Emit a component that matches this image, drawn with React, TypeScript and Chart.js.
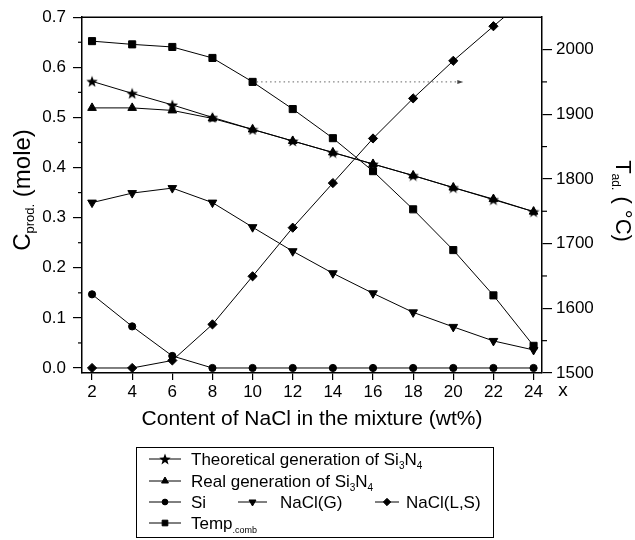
import React, { useEffect, useRef } from "react";
import { Chart, registerables } from "chart.js";
import { drawPoint } from "chart.js/helpers";

Chart.register(...registerables);

const X_VALUES = [2, 4, 6, 8, 10, 12, 14, 16, 18, 20, 22, 24];
const THEORETICAL = [0.572, 0.548, 0.525, 0.5, 0.476, 0.453, 0.43, 0.407, 0.384, 0.36, 0.336, 0.312];
const REAL = [0.519, 0.519, 0.514, 0.498, 0.476, 0.453, 0.43, 0.407, 0.384, 0.36, 0.337, 0.312];
const SI = [0.147, 0.083, 0.024, 0, 0, 0, 0, 0, 0, 0, 0, 0];
const NACL_G = [0.33, 0.349, 0.359, 0.33, 0.281, 0.233, 0.189, 0.149, 0.111, 0.082, 0.054, 0.036];
const NACL_LS = [0, 0, 0.015, 0.087, 0.183, 0.28, 0.369, 0.458, 0.538, 0.613, 0.682, 0.75];
const TEMP = [2013, 2008, 2004, 1987, 1950, 1908, 1863, 1812, 1753, 1690, 1620, 1542];

const X_TICKS = [2, 4, 6, 8, 10, 12, 14, 16, 18, 20, 22, 24];
const LEFT_TICKS = [0, 0.1, 0.2, 0.3, 0.4, 0.5, 0.6, 0.7];
const LEFT_MINOR = [0.05, 0.15, 0.25, 0.35, 0.45, 0.55, 0.65];
const RIGHT_TICKS = [1500, 1600, 1700, 1800, 1900, 2000];
const RIGHT_MINOR = [1550, 1650, 1750, 1850, 1950];

// dotted arrow annotation (x from, x to, temperature)
const ARROW_X = [10, 20.5];
const ARROW_T = 1950;

const FONT = '"Liberation Sans", Arial, sans-serif';

type Seg = { t: string; size: number; dy?: number };

function richWidth(ctx: CanvasRenderingContext2D, segs: Seg[]) {
  let w = 0;
  for (const s of segs) {
    ctx.font = `${s.size}px ${FONT}`;
    w += ctx.measureText(s.t).width;
  }
  return w;
}

function drawRich(ctx: CanvasRenderingContext2D, segs: Seg[], x: number, y: number, align: "left" | "center") {
  let cx = x;
  if (align === "center") cx = x - richWidth(ctx, segs) / 2;
  ctx.textAlign = "left";
  ctx.textBaseline = "alphabetic";
  for (const s of segs) {
    ctx.font = `${s.size}px ${FONT}`;
    ctx.fillText(s.t, cx, y + (s.dy || 0));
    cx += ctx.measureText(s.t).width;
  }
}

function makeStar(size: number) {
  const c = document.createElement("canvas");
  c.width = size;
  c.height = size;
  const g = c.getContext("2d")!;
  const r = size / 2;
  const ri = r * 0.42;
  g.beginPath();
  for (let i = 0; i < 10; i++) {
    const rad = (Math.PI / 5) * i - Math.PI / 2;
    const rr = i % 2 === 0 ? r : ri;
    const px = r + Math.cos(rad) * rr;
    const py = r + 0.6 + Math.sin(rad) * rr;
    if (i === 0) g.moveTo(px, py);
    else g.lineTo(px, py);
  }
  g.closePath();
  g.fillStyle = "#000";
  g.fill();
  return c;
}

export default function App() {
  const ref = useRef<HTMLCanvasElement>(null);

  useEffect(() => {
    const canvas = ref.current!;
    const star = makeStar(12);

    const styles: Record<string, any> = {
      theo: { pointStyle: star, radius: 6, rotation: 0 },
      real: { pointStyle: "triangle", radius: 5, rotation: 0 },
      si: { pointStyle: "circle", radius: 3.6, rotation: 0 },
      naclg: { pointStyle: "triangle", radius: 5, rotation: 180 },
      nacll: { pointStyle: "rectRot", radius: 4.6, rotation: 0 },
      temp: { pointStyle: "rect", radius: 5, rotation: 0 },
    };

    const mk = (label: string, vals: number[], key: string, axis: string) => ({
      label,
      data: X_VALUES.map((x, i) => ({ x, y: vals[i] })),
      yAxisID: axis,
      borderColor: "#000",
      backgroundColor: "#000",
      borderWidth: 1,
      pointStyle: styles[key].pointStyle,
      pointRadius: styles[key].radius,
      pointRotation: styles[key].rotation,
      pointBorderWidth: 1,
      pointBackgroundColor: "#000",
      pointBorderColor: "#000",
      tension: 0,
    });

    const overlay = {
      id: "overlay",
      afterDraw(chart: any) {
        const ctx: CanvasRenderingContext2D = chart.ctx;
        const a = chart.chartArea;
        const xs = chart.scales.x;
        const yl = chart.scales.y;
        const yr = chart.scales.y2;
        ctx.save();
        ctx.strokeStyle = "#000";
        ctx.fillStyle = "#000";
        // top border
        ctx.lineWidth = 1.5;
        ctx.beginPath();
        ctx.moveTo(a.left, a.top);
        ctx.lineTo(a.right, a.top);
        ctx.stroke();
        // minor ticks
        ctx.lineWidth = 1.2;
        for (const v of LEFT_MINOR) {
          const py = yl.getPixelForValue(v);
          ctx.beginPath();
          ctx.moveTo(a.left - 4, py);
          ctx.lineTo(a.left, py);
          ctx.stroke();
        }
        for (const v of RIGHT_MINOR) {
          const py = yr.getPixelForValue(v);
          ctx.beginPath();
          ctx.moveTo(a.right, py);
          ctx.lineTo(a.right + 5, py);
          ctx.stroke();
        }
        // dotted arrow
        const ay = yr.getPixelForValue(ARROW_T);
        const ax0 = xs.getPixelForValue(ARROW_X[0]);
        const ax1 = xs.getPixelForValue(ARROW_X[1]);
        ctx.strokeStyle = "#666";
        ctx.lineWidth = 1;
        ctx.setLineDash([1.5, 3]);
        ctx.beginPath();
        ctx.moveTo(ax0 + 4, ay);
        ctx.lineTo(ax1 - 4, ay);
        ctx.stroke();
        ctx.setLineDash([]);
        ctx.fillStyle = "#444";
        ctx.beginPath();
        ctx.moveTo(ax1, ay);
        ctx.lineTo(ax1 - 6, ay - 2);
        ctx.lineTo(ax1 - 6, ay + 2);
        ctx.closePath();
        ctx.fill();
        ctx.fillStyle = "#000";
        // "x" after the last tick
        ctx.font = `19px ${FONT}`;
        ctx.textAlign = "center";
        ctx.textBaseline = "middle";
        ctx.fillText("x", a.right + 21, 391);
        // x title
        drawRich(ctx, [{ t: "Content of NaCl in the mixture (wt%)", size: 21 }], (a.left + a.right) / 2, 425, "center");
        // left title
        ctx.save();
        ctx.translate(30, 190);
        ctx.rotate(-Math.PI / 2);
        drawRich(
          ctx,
          [
            { t: "C", size: 24 },
            { t: "prod.", size: 13, dy: 4 },
            { t: " (mole)", size: 24 },
          ],
          0,
          0,
          "center"
        );
        ctx.restore();
        // right title
        ctx.save();
        ctx.translate(616, 201);
        ctx.rotate(Math.PI / 2);
        drawRich(
          ctx,
          [
            { t: "T", size: 22 },
            { t: "ad.", size: 12, dy: 4 },
            { t: " ( °C)", size: 22 },
          ],
          0,
          0,
          "center"
        );
        ctx.restore();
        // legend
        ctx.lineWidth = 1;
        ctx.strokeStyle = "#000";
        ctx.strokeRect(136.5, 447.5, 357, 90);
        const rows = [459, 481, 502, 523];
        const item = (key: string, x0: number, x1: number, y: number, segs: Seg[], tx: number) => {
          ctx.strokeStyle = "#000";
          ctx.lineWidth = 1;
          ctx.beginPath();
          ctx.moveTo(x0, y);
          ctx.lineTo(x1, y);
          ctx.stroke();
          ctx.fillStyle = "#000";
          drawPoint(ctx, { pointStyle: styles[key].pointStyle, radius: styles[key].radius * 0.8, rotation: styles[key].rotation, borderWidth: 1 } as any, (x0 + x1) / 2, y);
          ctx.fillStyle = "#000";
          drawRich(ctx, segs, tx, y + 6, "left");
        };
        const sub = (t: string): Seg => ({ t, size: 10, dy: 4 });
        item("theo", 149, 181, rows[0], [{ t: "Theoretical generation of Si", size: 17 }, sub("3"), { t: "N", size: 17 }, sub("4")], 191);
        item("real", 149, 181, rows[1], [{ t: "Real generation of Si", size: 17 }, sub("3"), { t: "N", size: 17 }, sub("4")], 191);
        item("si", 149, 181, rows[2], [{ t: "Si", size: 17 }], 191);
        item("naclg", 238, 267, rows[2], [{ t: "NaCl(G)", size: 17 }], 280);
        item("nacll", 375, 399, rows[2], [{ t: "NaCl(L,S)", size: 17 }], 406);
        item("temp", 149, 181, rows[3], [{ t: "Temp", size: 17 }, { t: ".comb", size: 9, dy: 4 }], 191);
        ctx.restore();
      },
    };

    const tickFont = { family: FONT, size: 17 };

    const chart = new Chart(canvas, {
      type: "line",
      data: {
        datasets: [
          mk("Temp", TEMP, "temp", "y2"),
          mk("Theoretical", THEORETICAL, "theo", "y"),
          mk("Real", REAL, "real", "y"),
          mk("Si", SI, "si", "y"),
          mk("NaCl(G)", NACL_G, "naclg", "y"),
          mk("NaCl(L,S)", NACL_LS, "nacll", "y"),
        ] as any,
      },
      options: {
        responsive: false,
        animation: false,
        layout: { padding: { top: 13, left: 0, right: 0, bottom: 0 } },
        plugins: { legend: { display: false }, tooltip: { enabled: false } },
        scales: {
          x: {
            type: "linear",
            min: 1.5,
            max: 24.42,
            afterBuildTicks: (s: any) => {
              s.ticks = X_TICKS.map((v) => ({ value: v }));
            },
            afterFit: (s: any) => {
              s.height = 167;
            },
            grid: { drawOnChartArea: false, drawTicks: true, tickLength: 7, color: "#000", lineWidth: 1.2 },
            border: { display: true, color: "#000", width: 1.5 },
            ticks: { color: "#000", font: tickFont, padding: 2, maxRotation: 0, autoSkip: false },
          },
          y: {
            type: "linear",
            position: "left",
            min: -0.01,
            max: 0.7,
            afterBuildTicks: (s: any) => {
              s.ticks = LEFT_TICKS.map((v) => ({ value: v }));
            },
            afterFit: (s: any) => {
              s.width = 82;
            },
            grid: { drawOnChartArea: false, drawTicks: true, tickLength: 9, color: "#000", lineWidth: 1.2 },
            border: { display: true, color: "#000", width: 1.5 },
            ticks: { color: "#000", font: tickFont, padding: 7, callback: (v: any) => Number(v).toFixed(1) },
          },
          y2: {
            type: "linear",
            position: "right",
            min: 1500,
            max: 2050,
            afterBuildTicks: (s: any) => {
              s.ticks = RIGHT_TICKS.map((v) => ({ value: v }));
            },
            afterFit: (s: any) => {
              s.width = 93;
            },
            grid: { drawOnChartArea: false, drawTicks: true, tickLength: 10, color: "#000", lineWidth: 1.2 },
            border: { display: true, color: "#000", width: 1.5 },
            ticks: { color: "#000", font: tickFont, padding: 4, callback: (v: any) => String(v) },
          },
        },
      },
      plugins: [overlay],
    });

    return () => chart.destroy();
  }, []);

  return (
    <div style={{ position: "fixed", left: 0, top: 0, width: 635, height: 540, background: "#fff" }}>
      <canvas ref={ref} width={635} height={540} style={{ display: "block" }} />
    </div>
  );
}
